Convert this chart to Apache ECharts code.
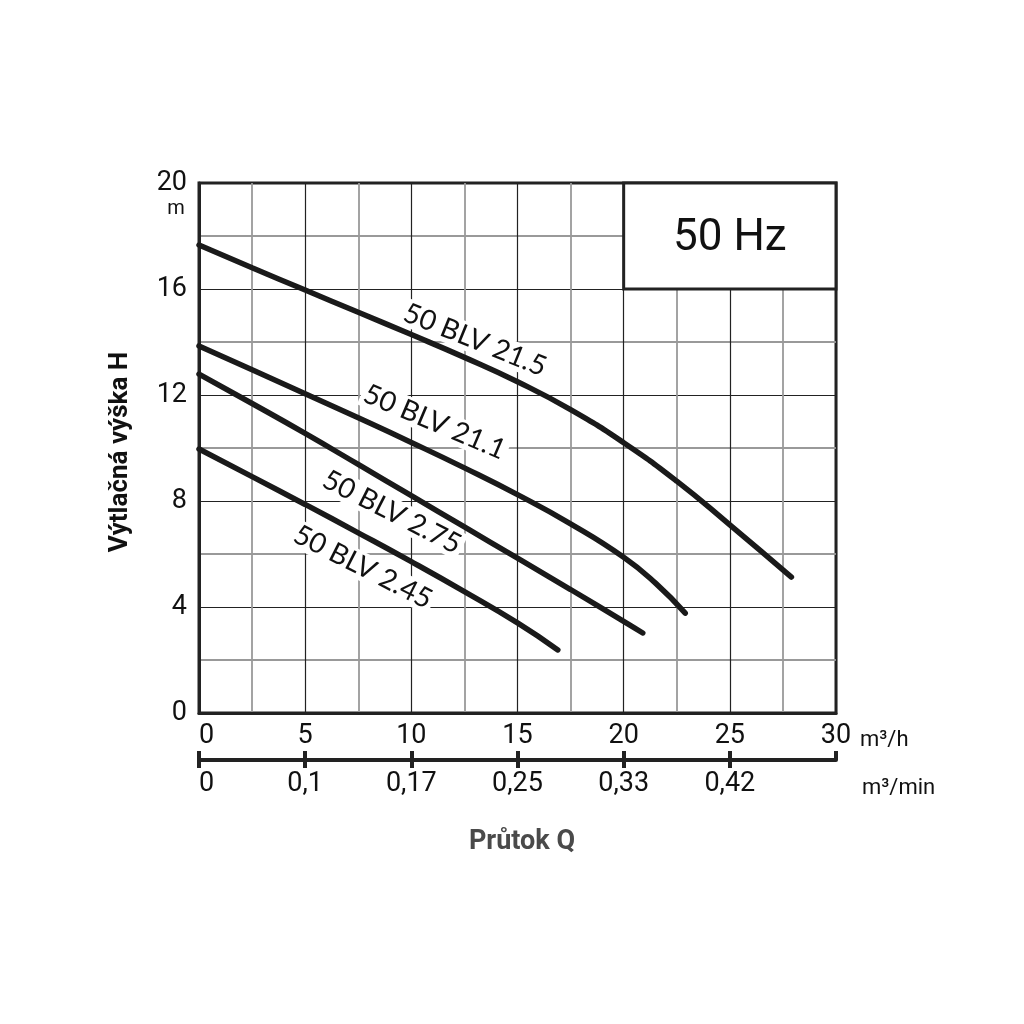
<!DOCTYPE html>
<html>
<head>
<meta charset="utf-8">
<script src="https://cdn.jsdelivr.net/npm/echarts@6/dist/echarts.min.js"></script>
<style>
  html, body { margin: 0; padding: 0; background: #fff; }
  #chart { width: 1024px; height: 1024px; }
</style>
</head>
<body>
<div id="chart"></div>
<script>
// curve data: Q in m3/h, H in m
const q215 = [0, 2.5, 5, 7.5, 10, 12.5, 15, 17.5, 20, 22.5, 25, 27.9];
const h215 = [17.66, 16.8, 15.96, 15.12, 14.28, 13.42, 12.5, 11.45, 10.2, 8.75, 7.1, 5.13];

const q211 = [0, 2.5, 5, 7.5, 10, 12.5, 15, 17.5, 20, 21.5, 22.9];
const h211 = [13.85, 12.95, 12.05, 11.14, 10.21, 9.25, 8.24, 7.14, 5.88, 4.9, 3.77];

const q275 = [0, 2.5, 5, 7.5, 10, 12.5, 15, 17.5, 20, 20.9];
const h275 = [12.79, 11.68, 10.55, 9.38, 8.2, 7.02, 5.84, 4.66, 3.46, 3.02];

const q245 = [0, 2.5, 5, 7.5, 10, 12.5, 15, 16.9];
const h245 = [9.96, 8.92, 7.87, 6.8, 5.71, 4.58, 3.4, 2.38];

const curveNames = ['50 BLV 21.5', '50 BLV 21.1', '50 BLV 2.75', '50 BLV 2.45'];
// where each curve label sits (data coords) and its tilt in degrees
const labelAt = [[13.0, 14.08], [11.1, 10.98], [9.09, 7.58], [7.72, 5.51]];
const labelTilt = [22, 23, 27, 27];

// lower scale: m3/min under each m3/h tick
const qTicks = [0, 5, 10, 15, 20, 25, 30];
const minLabels = ['0', '0,1', '0,17', '0,25', '0,33', '0,42', ''];

const ink = '#1a1a1a';
const font = 'Roboto';

function pairs(xs, ys) {
    return xs.map(function (x, i) { return [x, ys[i]]; });
}

let chart = echarts.init(document.getElementById('chart'));

const lines = [[q215, h215], [q211, h211], [q275, h275], [q245, h245]];

chart.setOption({
    animation: false,
    grid: {
        left: 199, top: 183, width: 637, height: 530,
        show: true, borderColor: '#222', borderWidth: 3
    },
    xAxis: [
        {
            type: 'value', min: 0, max: 30, interval: 5, position: 'bottom',
            axisLine: { show: true, lineStyle: { color: '#222', width: 3 } },
            axisTick: { show: false },
            axisLabel: { fontFamily: font, fontSize: 27, color: '#111', margin: 10, alignMinLabel: 'left' },
            splitLine: { show: true, lineStyle: { color: '#222', width: 1.2 } },
            minorTick: { show: false, splitNumber: 2 },
            minorSplitLine: { show: true, lineStyle: { color: '#999', width: 1.8 } }
        },
        {
            // m3/min scale, ticks pointing down
            type: 'value', min: 0, max: 30, interval: 5, position: 'bottom', offset: 47,
            axisLine: { show: true, lineStyle: { color: '#222', width: 4 } },
            axisTick: { show: true, length: 8, lineStyle: { color: '#222', width: 4 }, customValues: [0, 5, 10, 15, 20, 25] },
            axisLabel: {
                fontFamily: font, fontSize: 27, color: '#111', margin: 11, alignMinLabel: 'left',
                formatter: function (v) { return minLabels[qTicks.indexOf(v)]; }
            },
            splitLine: { show: false }
        },
        {
            // same scale, ticks pointing up
            type: 'value', min: 0, max: 30, interval: 5, position: 'bottom', offset: 47,
            axisLine: { show: false },
            axisTick: { show: true, inside: true, length: 9, lineStyle: { color: '#222', width: 4 } },
            axisLabel: { show: false },
            splitLine: { show: false }
        }
    ],
    yAxis: {
        type: 'value', min: 0, max: 20, interval: 4,
        axisLine: { show: true, lineStyle: { color: '#222', width: 3 } },
        axisTick: { show: false },
        axisLabel: { fontFamily: font, fontSize: 27, color: '#111', margin: 12 },
        splitLine: { show: true, lineStyle: { color: '#222', width: 1.2 } },
        minorTick: { show: false, splitNumber: 2 },
        minorSplitLine: { show: true, lineStyle: { color: '#999', width: 1.8 } }
    },
    series: lines.map(function (l, i) {
        return {
            name: curveNames[i],
            type: 'line',
            smooth: true,
            symbol: 'none',
            z: 5,
            lineStyle: { color: ink, width: 5.5, cap: 'round' },
            data: pairs(l[0], l[1])
        };
    })
});

// labels, frequency box and the titles
let graphics = [];

curveNames.forEach(function (name, i) {
    let p = chart.convertToPixel({ xAxisIndex: 0, yAxisIndex: 0 }, labelAt[i]);
    graphics.push({
        type: 'text', x: p[0], y: p[1], rotation: -labelTilt[i] * Math.PI / 180, z: 10,
        style: {
            text: name, fontFamily: 'Lato', fontSize: 28, fill: '#111',
            align: 'center', verticalAlign: 'middle',
            backgroundColor: '#fff', padding: [0, 3]
        }
    });
});

let boxA = chart.convertToPixel({ xAxisIndex: 0, yAxisIndex: 0 }, [20, 20]);
let boxB = chart.convertToPixel({ xAxisIndex: 0, yAxisIndex: 0 }, [30, 16]);
graphics.push({
    type: 'rect', z: 8,
    shape: { x: boxA[0], y: boxA[1], width: boxB[0] - boxA[0], height: boxB[1] - boxA[1] },
    style: { fill: '#fff', stroke: '#222', lineWidth: 3 }
});
graphics.push({
    type: 'text', z: 9, x: (boxA[0] + boxB[0]) / 2, y: (boxA[1] + boxB[1]) / 2 + 3,
    style: { text: '50 Hz', fontFamily: font, fontSize: 44, fill: '#111', align: 'center', verticalAlign: 'middle' }
});

graphics.push(
    { type: 'text', x: 176, y: 209, style: { text: 'm', fontFamily: font, fontSize: 20, fill: '#111', align: 'center', verticalAlign: 'middle' } },
    { type: 'text', x: 860, y: 740, style: { text: 'm³/h', fontFamily: font, fontSize: 22, fill: '#111', align: 'left', verticalAlign: 'middle' } },
    { type: 'text', x: 862, y: 788, style: { text: 'm³/min', fontFamily: font, fontSize: 22, fill: '#111', align: 'left', verticalAlign: 'middle' } },
    { type: 'text', x: 522, y: 842, style: { text: 'Průtok Q', fontFamily: font, fontWeight: 'bold', fontSize: 27, fill: '#4a4a4a', align: 'center', verticalAlign: 'middle' } },
    { type: 'text', x: 120, y: 452, rotation: Math.PI / 2, style: { text: 'Výtlačná výška H', fontFamily: font, fontWeight: 'bold', fontSize: 26, fill: '#111', align: 'center', verticalAlign: 'middle' } }
);

chart.setOption({ graphic: graphics });
</script>
</body>
</html>
